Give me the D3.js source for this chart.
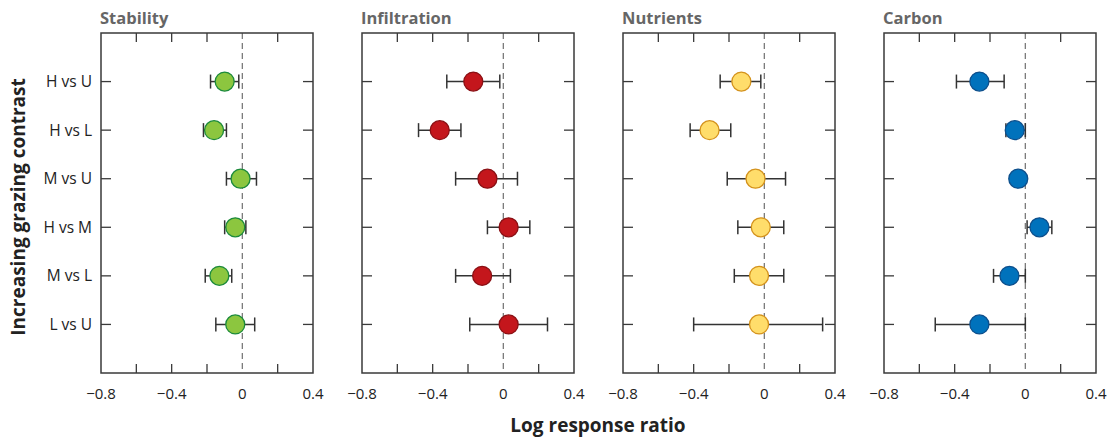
<!DOCTYPE html>
<html lang="en">
<head>
<meta charset="utf-8">
<title>Grazing contrasts</title>
<style>
  body { margin: 0; background: #fff; }
  svg { display: block; font-family: "Open Sans", "Noto Sans", sans-serif; }
  .frame { fill: none; stroke: #3a3a3a; stroke-width: 1.5; }
  .tick { stroke: #3a3a3a; stroke-width: 1.3; }
  .zero { stroke: #7a7a7a; stroke-width: 1.3; stroke-dasharray: 6 4; }
  .bar { stroke: #333; stroke-width: 1.5; }
  .ptitle { font-weight: 700; font-size: 16.5px; fill: #666; }
  .xlab { font-size: 15px; fill: #222; }
  .ylab { font-size: 15.5px; fill: #222; }
  .axtitle { font-weight: 700; font-size: 19px; fill: #222; }
</style>
<script src="https://cdn.jsdelivr.net/npm/d3@7"></script>
</head>
<body>
<script>
// rows, top to bottom
var contrasts = ["H vs U", "H vs L", "M vs U", "H vs M", "M vs L", "L vs U"];
var panels = ["Stability", "Infiltration", "Nutrients", "Carbon"];
var xTicks = [-0.8, -0.4, 0, 0.4];

// mean, lower, upper (log response ratio)
var stabilityMean = [-0.10, -0.16, -0.01, -0.04, -0.13, -0.04];
var stabilityLo   = [-0.18, -0.22, -0.09, -0.10, -0.21, -0.15];
var stabilityHi   = [-0.02, -0.09,  0.08,  0.02, -0.06,  0.07];

var infiltrationMean = [-0.17, -0.36, -0.09,  0.03, -0.12,  0.03];
var infiltrationLo   = [-0.32, -0.48, -0.27, -0.09, -0.27, -0.19];
var infiltrationHi   = [-0.02, -0.24,  0.08,  0.15,  0.04,  0.25];

var nutrientsMean = [-0.13, -0.31, -0.05, -0.02, -0.03, -0.03];
var nutrientsLo   = [-0.25, -0.42, -0.21, -0.15, -0.17, -0.40];
var nutrientsHi   = [-0.02, -0.19,  0.12,  0.11,  0.11,  0.33];

var carbonMean = [-0.26, -0.06, -0.04,  0.08, -0.09, -0.26];
var carbonLo   = [-0.39, -0.11, -0.07,  0.01, -0.18, -0.51];
var carbonHi   = [-0.12,  0.00, -0.01,  0.15,  0.00,  0.00];

var fills   = ["#8cc63f", "#c4161c", "#ffdd6b", "#0072bc"];
var strokes = ["#1b8a3b", "#8a1014", "#d4921c", "#0d4f8c"];

var series = [
  [stabilityMean, stabilityLo, stabilityHi],
  [infiltrationMean, infiltrationLo, infiltrationHi],
  [nutrientsMean, nutrientsLo, nutrientsHi],
  [carbonMean, carbonLo, carbonHi]
];

var width = 1107, height = 438;
var marginLeft = 101, marginTop = 33, pw = 212, ph = 340, step = 261;

var svg = d3.select("body").append("svg")
  .attr("width", width)
  .attr("height", height);

var x = d3.scaleLinear().domain([-0.8, 0.4]).range([0, pw]);
var y = d3.scalePoint().domain(contrasts).range([0, ph]).padding(1);

var fmt = function(d) { return d === 0 ? "0" : String(d).replace("-", "\u2212"); };

panels.forEach(function(name, p) {
  var g = svg.append("g").attr("transform", "translate(" + (marginLeft + p * step) + "," + marginTop + ")");
  var s = series[p];

  g.append("text").attr("class", "ptitle")
    .attr("x", -1).attr("y", -9)
    .text(name);

  // inner ticks, top and bottom
  var inner = [-0.6, -0.4, -0.2, 0.2];
  g.selectAll(".tt").data(inner).enter().append("line")
    .attr("class", "tick")
    .attr("x1", d => x(d)).attr("x2", d => x(d))
    .attr("y1", 0).attr("y2", 9);
  g.selectAll(".tb").data(inner).enter().append("line")
    .attr("class", "tick")
    .attr("x1", d => x(d)).attr("x2", d => x(d))
    .attr("y1", ph).attr("y2", ph - 9);

  // row ticks, left and right
  g.selectAll(".tl").data(contrasts).enter().append("line")
    .attr("class", "tick")
    .attr("x1", 0).attr("x2", 10)
    .attr("y1", d => y(d)).attr("y2", d => y(d));
  g.selectAll(".tr").data(contrasts).enter().append("line")
    .attr("class", "tick")
    .attr("x1", pw).attr("x2", pw - 10)
    .attr("y1", d => y(d)).attr("y2", d => y(d));

  g.append("line").attr("class", "zero")
    .attr("x1", x(0)).attr("x2", x(0))
    .attr("y1", 0).attr("y2", ph);

  g.append("rect").attr("class", "frame")
    .attr("width", pw).attr("height", ph);

  g.selectAll(".xl").data(xTicks).enter().append("text")
    .attr("class", "xlab")
    .attr("x", d => x(d)).attr("y", ph + 26)
    .attr("text-anchor", "middle")
    .text(fmt);

  if (p === 0) {
    g.selectAll(".yl").data(contrasts).enter().append("text")
      .attr("class", "ylab")
      .attr("x", -9).attr("y", d => y(d) + 5.5)
      .attr("text-anchor", "end")
      .text(d => d);
  }

  // error bars
  var rows = contrasts.map(function(c, i) {
    return { c: c, m: s[0][i], lo: s[1][i], hi: s[2][i] };
  });
  var eb = g.selectAll(".eb").data(rows).enter().append("g");
  eb.append("line").attr("class", "bar")
    .attr("x1", d => x(d.lo)).attr("x2", d => x(d.hi))
    .attr("y1", d => y(d.c)).attr("y2", d => y(d.c));
  eb.append("line").attr("class", "bar")
    .attr("x1", d => x(d.lo)).attr("x2", d => x(d.lo))
    .attr("y1", d => y(d.c) - 7).attr("y2", d => y(d.c) + 7);
  eb.append("line").attr("class", "bar")
    .attr("x1", d => x(d.hi)).attr("x2", d => x(d.hi))
    .attr("y1", d => y(d.c) - 7).attr("y2", d => y(d.c) + 7);
  eb.append("circle")
    .attr("cx", d => x(d.m)).attr("cy", d => y(d.c))
    .attr("r", 9.5)
    .attr("fill", fills[p])
    .attr("stroke", strokes[p])
    .attr("stroke-width", 1.3);
});

svg.append("text").attr("class", "axtitle")
  .attr("x", 598).attr("y", 432)
  .attr("text-anchor", "middle")
  .text("Log response ratio");

svg.append("text").attr("class", "axtitle")
  .attr("transform", "translate(25,207) rotate(-90)")
  .attr("text-anchor", "middle")
  .text("Increasing grazing contrast");
</script>
</body>
</html>
